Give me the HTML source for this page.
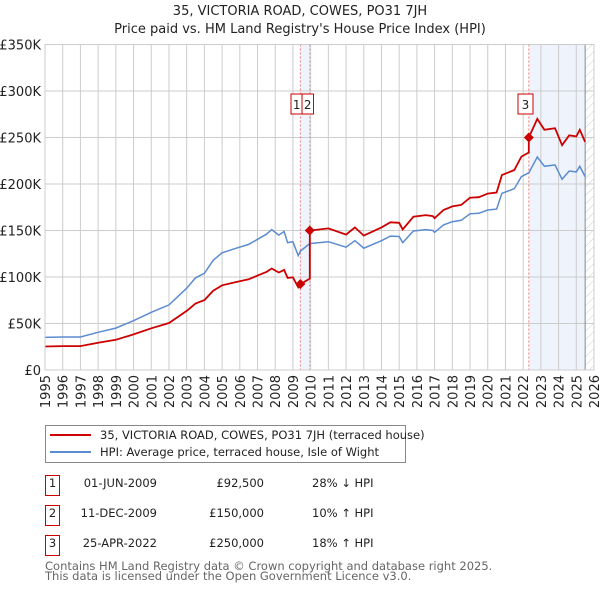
<!DOCTYPE html>
<html><head><meta charset="utf-8">
<style>
body{margin:0;background:#fff;font-family:"Liberation Sans","DejaVu Sans",sans-serif;}
svg{display:block}
text{font-family:"DejaVu Sans","Liberation Sans",sans-serif;}
</style></head>
<body>
<svg id="chart" width="600" height="590" viewBox="0 0 600 590">
<defs>
<pattern id="hatch" width="6" height="6" patternUnits="userSpaceOnUse" patternTransform="rotate(45)">
<line x1="0" y1="0" x2="0" y2="6" stroke="#ccc" stroke-width="1"/>
</pattern>
</defs>
<text x="300" y="15" text-anchor="middle" font-size="13" fill="#222">35, VICTORIA ROAD, COWES, PO31 7JH</text>
<text x="300" y="33" text-anchor="middle" font-size="13" fill="#222">Price paid vs. HM Land Registry's House Price Index (HPI)</text>
<g id="plot"></g>
</svg>
<script>
const hpiYears=[1995,1996,1997,1998,1999,2000,2001,2002,2003,2003.5,2004,2004.5,2005,2005.8,2006.5,2007,2007.5,2007.8,2008.2,2008.5,2008.7,2009.0,2009.3,2009.42,2009.5,2009.95,2010,2011,2012,2012.5,2013,2014,2014.5,2015,2015.2,2015.8,2016.5,2016.9,2017.0,2017.5,2018,2018.5,2019,2019.5,2020,2020.5,2020.8,2021.5,2021.9,2022.32,2022.8,2023.2,2023.8,2024.2,2024.6,2025.0,2025.2,2025.5];
const hpiValues=[35,35.5,35.5,40.5,45,53,62,70,88,99,104,118,126,131,135,140.5,146,151,145,149,137,138,123,128,129,136,136,138,132,139,131,139,144,143.5,137,149.5,151,150,148,156,159.5,161,168,168.5,172,173,190,195,208,212,229,219,220.5,205,214,213,219,208];
const saleLabels=["1","2","3"];
const saleYears=[2009.42,2009.95,2022.32];
const salePrices=[92.5,150,250];
const yTicks=[0,50,100,150,200,250,300,350];
const yTickLabels=["£0","£50K","£100K","£150K","£200K","£250K","£300K","£350K"];
const xTicks=[1995,1996,1997,1998,1999,2000,2001,2002,2003,2004,2005,2006,2007,2008,2009,2010,2011,2012,2013,2014,2015,2016,2017,2018,2019,2020,2021,2022,2023,2024,2025,2026];

const L=45,R=594,T=44.5,B=370,x0=1995,x1=2026,yMax=350;
const X=y=>L+(y-x0)/(x1-x0)*(R-L);
const Y=v=>B-v/yMax*(B-T);
const NS="http://www.w3.org/2000/svg";
const g=document.getElementById('plot');
function mk(tag,attrs,parent){const e=document.createElementNS(NS,tag);for(const k in attrs)e.setAttribute(k,attrs[k]);(parent||g).appendChild(e);return e;}
function hpiAt(t){for(let i=0;i<hpiYears.length-1;i++){if(t>=hpiYears[i]&&t<=hpiYears[i+1]){const f=(t-hpiYears[i])/(hpiYears[i+1]-hpiYears[i]);return hpiValues[i]+f*(hpiValues[i+1]-hpiValues[i]);}}return hpiValues[hpiValues.length-1];}
const hatchStart=2025.5;
let r=mk('rect',{x:X(saleYears[0]),y:T,width:X(saleYears[1])-X(saleYears[0]),height:B-T,fill:'#eef3fc'});


r=mk('rect',{x:X(saleYears[2]),y:T,width:X(hatchStart)-X(saleYears[2]),height:B-T,fill:'#eef3fc'});


r=mk('rect',{x:X(hatchStart),y:T,width:R-X(hatchStart),height:B-T,fill:'url(#hatch)'});


yTicks.forEach((v,i)=>{
 const l=mk('line',{x1:L,x2:R,y1:Y(v),y2:Y(v),stroke:'#ccc','stroke-width':1});
 
 
 const t=mk('text',{x:L-4,y:Y(v)+5,'text-anchor':'end','font-size':13,fill:'#222'});
 t.textContent=yTickLabels[i];
 
 
});
xTicks.forEach(yr=>{
 const l=mk('line',{x1:X(yr),x2:X(yr),y1:T,y2:B,stroke:'#ccc','stroke-width':1});
 
 
 const t=mk('text',{x:0,y:0,'text-anchor':'end','font-size':13,fill:'#222',transform:`translate(${X(yr)+5},${B+5}) rotate(-90)`});
 t.textContent=yr;
 
 
});
r=mk('line',{x1:X(hatchStart),x2:X(hatchStart),y1:T,y2:B,stroke:'#888','stroke-width':1});


saleYears.forEach(s=>{
 const l=mk('line',{x1:X(s),x2:X(s),y1:T,y2:B,stroke:'#f08080','stroke-width':1,'stroke-dasharray':'2,2'});
 
 
});
let pts=hpiYears.map((t,i)=>X(t).toFixed(1)+','+Y(hpiValues[i]).toFixed(1)).join(' ');
r=mk('polyline',{points:pts,fill:'none',stroke:'#5b8bd0','stroke-width':1.5});


function factorAt(t){let idx=0;for(let i=0;i<saleYears.length;i++){if(t>=saleYears[i])idx=i;}return salePrices[idx]/hpiAt(saleYears[idx]);}
let rp=[];
hpiYears.forEach((t,i)=>{
 saleYears.forEach((s,k)=>{if(k>0&&s>(i>0?hpiYears[i-1]:0)&&s<=t){const h=hpiAt(s);rp.push([s,h*salePrices[k-1]/hpiAt(saleYears[k-1])]);rp.push([s,salePrices[k]]);}});
 rp.push([t,hpiValues[i]*factorAt(t)]);
});
pts=rp.map(p=>X(p[0]).toFixed(1)+','+Y(p[1]).toFixed(1)).join(' ');
r=mk('polyline',{points:pts,fill:'none',stroke:'#cc0000','stroke-width':1.8});


const boxX=[291,302,518];
saleYears.forEach((s,i)=>{
 const cx=X(s),cy=Y(salePrices[i]);
 const d=mk('polygon',{points:`${cx},${cy-5} ${cx+5},${cy} ${cx},${cy+5} ${cx-5},${cy}`,fill:'#cc0000'});
 
 
 const b=mk('rect',{x:boxX[i],y:94,width:i==2?15:11.5,height:20,fill:'#fff',stroke:'#cc0000','stroke-width':1});
 
 
 const t=mk('text',{x:boxX[i]+(i==2?7.5:5.75),y:109,'text-anchor':'middle','font-size':12,fill:'#222'});
 t.textContent=saleLabels[i];
 
 
});
r=mk('rect',{x:L,y:T,width:R-L,height:B-T,fill:'none',stroke:'#ccc','stroke-width':1});



const svg=document.getElementById('chart');
r=mk('rect',{x:45.5,y:425.5,width:360,height:37,fill:'#fff',stroke:'#888','stroke-width':1},svg);


const legItems=[["35, VICTORIA ROAD, COWES, PO31 7JH (terraced house)","#cc0000",435],["HPI: Average price, terraced house, Isle of Wight","#5b8bd0",452]];
legItems.forEach((it,i)=>{
 const l=mk('line',{x1:50,x2:91,y1:it[2],y2:it[2],stroke:it[1],'stroke-width':2},svg);
 
 
 const t=mk('text',{x:100,y:it[2]+4,'font-size':11.5,fill:'#222'},svg);
 t.textContent=it[0];
 
 
});
const dates=["01-JUN-2009","11-DEC-2009","25-APR-2022"];
const prices=["£92,500","£150,000","£250,000"];
const rel=["28% ↓ HPI","10% ↑ HPI","18% ↑ HPI"];
[0,1,2].forEach(i=>{
 const yy=483+30*i;
 const b=mk('rect',{x:45.5,y:yy-7.5,width:14,height:20,fill:'#fff',stroke:'#cc0000','stroke-width':1},svg);
 
 
 const cells=[[52.5,'middle',saleLabels[i]],[157,'end',dates[i]],[264,'end',prices[i]],[312,'start',rel[i]]];
 cells.forEach(c=>{
  const t=mk('text',{x:c[0],y:yy+4,'text-anchor':c[1],'font-size':11.5,fill:'#222'},svg);
  t.textContent=c[2];
  
  
 });
});
["Contains HM Land Registry data © Crown copyright and database right 2025.","This data is licensed under the Open Government Licence v3.0."].forEach((s,i)=>{
 const t=mk('text',{x:45,y:570+10*i,'font-size':11.5,fill:'#666'},svg);
 t.textContent=s;
 
 
});
</script>
</body></html>
